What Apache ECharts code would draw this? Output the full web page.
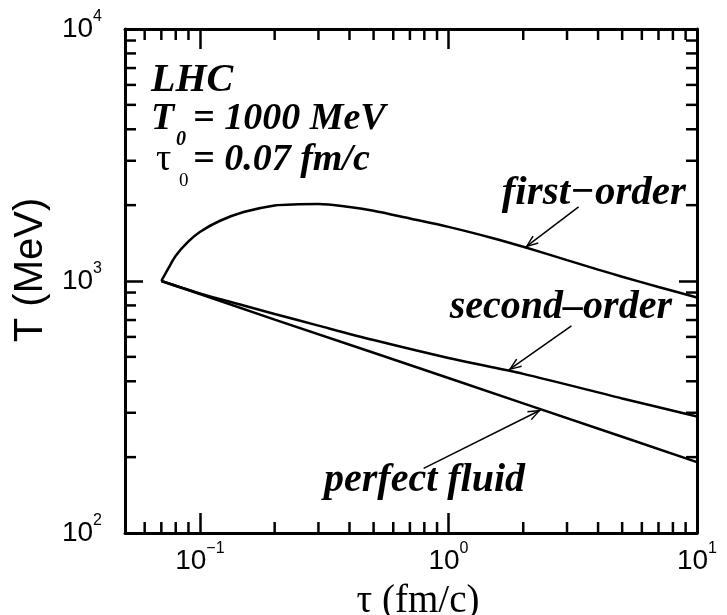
<!DOCTYPE html>
<html>
<head>
<meta charset="utf-8">
<script src="https://cdn.jsdelivr.net/npm/echarts@6/dist/echarts.min.js"></script>
<style>
html,body{margin:0;padding:0;background:#fff;}
#chart{width:727px;height:615px;}
</style>
</head>
<body>
<div id="chart"></div>
<script>
// ---- data ----
const xMin = 0.05, xMax = 10, yMin = 100, yMax = 10000;
const tauFirst = [0.07, 0.075, 0.08, 0.09, 0.1, 0.12, 0.15, 0.2, 0.25, 0.3, 0.4, 0.5, 0.7, 1, 1.5, 2, 3, 4, 5, 7, 10];
const TFirst   = [1000, 1130, 1260, 1435, 1565, 1730, 1878, 1995, 2015, 2020, 1965, 1900, 1770, 1640, 1482, 1367, 1210, 1110, 1040, 947, 860];
const tauSecond = [0.07, 0.1, 0.15, 0.2, 0.3, 0.5, 1, 2, 5, 10];
const TSecond   = [1000, 893, 800, 740, 665, 583, 495, 428, 342, 290];
const tauPerfect = [0.07, 0.1, 0.2, 0.5, 1, 2, 5, 10];
const TPerfect   = [1000, 888, 703, 519, 412, 327, 241, 191];
const xMinorTicks = [0.06, 0.07, 0.08, 0.09, 0.2, 0.3, 0.4, 0.5, 0.6, 0.7, 0.8, 0.9, 2, 3, 4, 5, 6, 7, 8, 9];
const yMinorTicks = [200, 300, 400, 500, 600, 700, 800, 900, 2000, 3000, 4000, 5000, 6000, 7000, 8000, 9000];
const arrowFirst = [[3.34, 1967], [2.044, 1362]];
const arrowSecond = [[3.125, 663], [1.75, 443.5]];
const arrowPerfect = [[0.795, 180.6], [2.35, 307.6]];
const labelFirst = 'first−order';
const labelSecond = 'second–order';
const labelPerfect = 'perfect fluid';

const zip = (a, b) => a.map((v, i) => [v, b[i]]);

const chart = echarts.init(document.getElementById('chart'), null, {renderer: 'canvas'});

const powLabel = function (v) {
  const e = Math.round(Math.log10(v));
  if (Math.abs(v - Math.pow(10, e)) / Math.pow(10, e) > 1e-6) return '';
  const es = e < 0 ? '−' + (-e) : String(e);
  return '{b|10}{s|' + es + '}';
};
const tickRich = {
  b: {fontSize: 28, fontFamily: 'Liberation Sans', color: '#000', lineHeight: 40},
  s: {fontSize: 16, fontFamily: 'Liberation Sans', color: '#000', lineHeight: 16, verticalAlign: 'top'}
};
const axisLine = {show: true, onZero: false, lineStyle: {color: '#000', width: 3}};
const arrowPath = 'path://M5,-12 L5.01,-12 M5,0 L10,12 L8.7,12.7 L5,3.3 L1.3,12.7 L0,12 Z';

const arrowMark = (pts) => ({
  silent: true,
  animation: false,
  symbol: ['none', arrowPath],
  symbolSize: [10, 26],
  lineStyle: {color: '#000', width: 1.5, type: 'solid'},
  label: {show: false},
  emphasis: {disabled: true},
  data: [[{coord: pts[0]}, {coord: pts[1]}]]
});

const curveStyle = {color: '#000', width: 2.5};

const minorStyle = {stroke: '#000', lineWidth: 2.5};

const option = {
  animation: false,
  backgroundColor: '#fff',
  grid: {left: 125, right: 30, top: 29, bottom: 82, containLabel: false, outerBoundsMode: 'none'},
  xAxis: [
    {
      type: 'log', logBase: 10, min: xMin, max: xMax, position: 'bottom',
      axisLine: axisLine,
      axisTick: {show: true, inside: true, length: 20, lineStyle: {color: '#000', width: 2.5}},
      axisLabel: {show: true, margin: 8, formatter: powLabel, rich: tickRich, showMinLabel: false},
      splitLine: {show: false},
      name: 'τ (fm/c)', nameLocation: 'middle', nameGap: 49,
      nameTextStyle: {fontFamily: 'Liberation Serif', fontSize: 39, color: '#000', padding: [0, 0, 0, 14]}
    },
    {
      type: 'log', logBase: 10, min: xMin, max: xMax, position: 'top',
      axisLine: axisLine,
      axisTick: {show: true, inside: true, length: 20, lineStyle: {color: '#000', width: 2.5}},
      axisLabel: {show: false},
      splitLine: {show: false}
    }
  ],
  yAxis: [
    {
      type: 'log', logBase: 10, min: yMin, max: yMax, position: 'left',
      axisLine: axisLine,
      axisTick: {show: true, inside: true, length: 18, lineStyle: {color: '#000', width: 2.5}},
      axisLabel: {show: true, margin: 23, formatter: powLabel, rich: tickRich},
      splitLine: {show: false},
      name: 'T (MeV)', nameLocation: 'middle', nameGap: 72, nameRotate: 90,
      nameTextStyle: {fontFamily: 'Liberation Sans', fontSize: 40, color: '#000', padding: [0, 0, 0, 22]}
    },
    {
      type: 'log', logBase: 10, min: yMin, max: yMax, position: 'right',
      axisLine: axisLine,
      axisTick: {show: true, inside: true, length: 18, lineStyle: {color: '#000', width: 2.5}},
      axisLabel: {show: false},
      splitLine: {show: false}
    }
  ],
  series: [
    {
      name: 'first-order', type: 'line', xAxisIndex: 0, yAxisIndex: 0,
      data: zip(tauFirst, TFirst), showSymbol: false, smooth: 0.3,
      lineStyle: curveStyle, itemStyle: {color: '#000'}, silent: true,
      markLine: arrowMark(arrowFirst)
    },
    {
      name: 'second-order', type: 'line', xAxisIndex: 0, yAxisIndex: 0,
      data: zip(tauSecond, TSecond), showSymbol: false, smooth: 0.3,
      lineStyle: curveStyle, itemStyle: {color: '#000'}, silent: true,
      markLine: arrowMark(arrowSecond)
    },
    {
      name: 'perfect fluid', type: 'line', xAxisIndex: 0, yAxisIndex: 0,
      data: zip(tauPerfect, TPerfect), showSymbol: false, smooth: false,
      lineStyle: curveStyle, itemStyle: {color: '#000'}, silent: true,
      markLine: arrowMark(arrowPerfect)
    },
    {
      type: 'custom', xAxisIndex: 0, yAxisIndex: 0, silent: true, clip: false, z: 5,
      data: xMinorTicks.map(v => [v, yMin]),
      renderItem: function (params, api) {
        const v = api.value(0);
        const b = api.coord([v, yMin]);
        const t = api.coord([v, yMax]);
        return {type: 'group', children: [
          {type: 'line', shape: {x1: b[0], y1: b[1], x2: b[0], y2: b[1] - 11}, style: minorStyle},
          {type: 'line', shape: {x1: t[0], y1: t[1], x2: t[0], y2: t[1] + 11}, style: minorStyle}
        ]};
      }
    },
    {
      type: 'custom', xAxisIndex: 0, yAxisIndex: 0, silent: true, clip: false, z: 5,
      data: yMinorTicks.map(v => [xMin, v]),
      renderItem: function (params, api) {
        const v = api.value(1);
        const l = api.coord([xMin, v]);
        const r = api.coord([xMax, v]);
        return {type: 'group', children: [
          {type: 'line', shape: {x1: l[0], y1: l[1], x2: l[0] + 11, y2: l[1]}, style: minorStyle},
          {type: 'line', shape: {x1: r[0], y1: r[1], x2: r[0] - 11, y2: r[1]}, style: minorStyle}
        ]};
      }
    }
  ],
  graphic: [
    {type: 'text', x: 151, y: 81, style: {text: 'LHC', font: 'italic bold 40px "Liberation Serif"', fill: '#000', textAlign: 'left', textVerticalAlign: 'middle'}},
    {type: 'text', x: 151, y: 119, style: {text: 'T', font: 'italic bold 38px "Liberation Serif"', fill: '#000', textAlign: 'left', textVerticalAlign: 'middle'}},
    {type: 'text', x: 176, y: 140, style: {text: '0', font: 'italic bold 20px "Liberation Serif"', fill: '#000', textAlign: 'left', textVerticalAlign: 'middle'}},
    {type: 'text', x: 193, y: 119, style: {text: '= 1000 MeV', font: 'italic bold 38px "Liberation Serif"', fill: '#000', textAlign: 'left', textVerticalAlign: 'middle'}},
    {type: 'text', x: 156, y: 160, style: {text: 'τ', font: '38px "Liberation Serif"', fill: '#000', textAlign: 'left', textVerticalAlign: 'middle'}},
    {type: 'text', x: 179, y: 181, style: {text: '0', font: '19px "Liberation Serif"', fill: '#000', textAlign: 'left', textVerticalAlign: 'middle'}},
    {type: 'text', x: 193, y: 160, style: {text: '= 0.07 fm/c', font: 'italic bold 38px "Liberation Serif"', fill: '#000', textAlign: 'left', textVerticalAlign: 'middle'}},
    {type: 'text', x: 686, y: 193, style: {text: labelFirst, font: 'italic bold 41px "Liberation Serif"', fill: '#000', textAlign: 'right', textVerticalAlign: 'middle'}},
    {type: 'text', x: 672, y: 308, style: {text: labelSecond, font: 'italic bold 40px "Liberation Serif"', fill: '#000', textAlign: 'right', textVerticalAlign: 'middle'}},
    {type: 'text', x: 324, y: 481, style: {text: labelPerfect, font: 'italic bold 40px "Liberation Serif"', fill: '#000', textAlign: 'left', textVerticalAlign: 'middle'}}
  ]
};
chart.setOption(option);
</script>
</body>
</html>
